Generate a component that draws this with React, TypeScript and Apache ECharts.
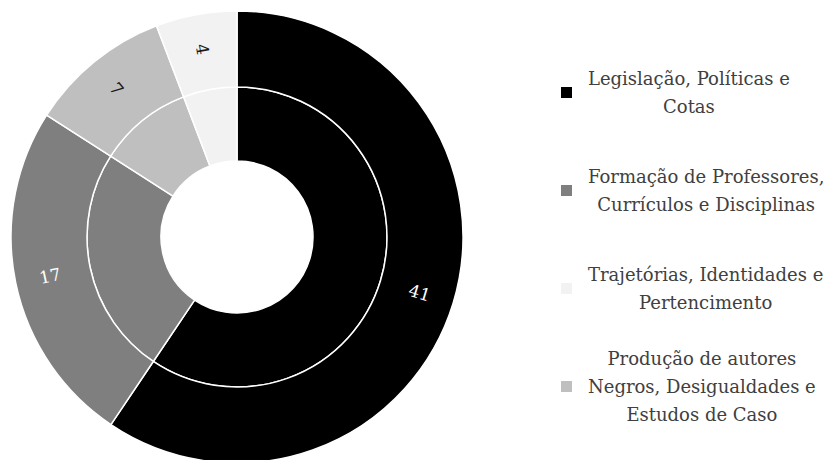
import React, { useEffect, useRef } from "react";
import * as echarts from "echarts";

const categories = [
  "Legislação, Políticas e\nCotas",
  "Formação de Professores,\nCurrículos e Disciplinas",
  "Produção de autores\nNegros, Desigualdades e\nEstudos de Caso",
  "Trajetórias, Identidades e\nPertencimento",
];
const values = [41, 17, 7, 4];
const colors = ["#000000", "#7f7f7f", "#bfbfbf", "#f2f2f2"];
const labelColors = ["#ffffff", "#ffffff", "#1a1a1a", "#1a1a1a"];
const legendOrder = [0, 1, 3, 2];
const legendCenters = [91, 189, 287, 385];

const FONT = "DejaVu Serif";
const LINE_H = 28;
const LEGEND_FS = 18;

export default function App() {
  const ref = useRef<HTMLDivElement>(null);
  useEffect(() => {
    if (!ref.current) return;
    const chart = echarts.init(ref.current, undefined, { renderer: "svg" });
    const data = categories.map((name, i) => ({
      name,
      value: values[i],
      itemStyle: { color: colors[i] },
      label: { color: labelColors[i] },
    }));
    const legends = legendOrder.map((idx, k) => {
      const name = categories[idx];
      const n = name.split("\n").length;
      return {
        data: [name],
        orient: "vertical",
        left: 559,
        top: legendCenters[k] - (n * LINE_H) / 2 + 6.5,
        padding: 0,
        itemWidth: 13,
        itemHeight: 13,
        icon: "rect",
        selectedMode: false,
        formatter: (nm: string) =>
          nm
            .split("\n")
            .map((l) => `{c|${l}}`)
            .join("\n"),
        textStyle: {
          fontFamily: FONT,
          fontSize: LEGEND_FS,
          color: "#404040",
          padding: [0, 0, 0, 10],
          rich: {
            c: {
              align: "center",
              fontFamily: FONT,
              fontSize: LEGEND_FS,
              color: "#404040",
              lineHeight: LINE_H,
            },
          },
        },
      };
    });
    chart.setOption({
      animation: false,
      backgroundColor: "#ffffff",
      legend: legends,
      series: [
        {
          type: "pie",
          center: [237, 237],
          radius: [76, 150],
          startAngle: 90,
          clockwise: true,
          label: { show: false },
          labelLine: { show: false },
          itemStyle: { borderColor: "#ffffff", borderWidth: 1.5 },
          emphasis: { disabled: true },
          data: data.map((d) => ({ ...d, label: { show: false } })),
        },
        {
          type: "pie",
          center: [237, 237],
          radius: [150, 226],
          startAngle: 90,
          clockwise: true,
          label: {
            show: true,
            position: "inside",
            rotate: "radial",
            formatter: "{c}",
            fontFamily: FONT,
            fontSize: 17,
          },
          labelLine: { show: false },
          itemStyle: { borderColor: "#ffffff", borderWidth: 1.5 },
          emphasis: { disabled: true },
          data,
        },
      ],
    });
    return () => chart.dispose();
  }, []);
  return (
    <div
      ref={ref}
      style={{ position: "fixed", left: 0, top: 0, width: 834, height: 460 }}
    />
  );
}
